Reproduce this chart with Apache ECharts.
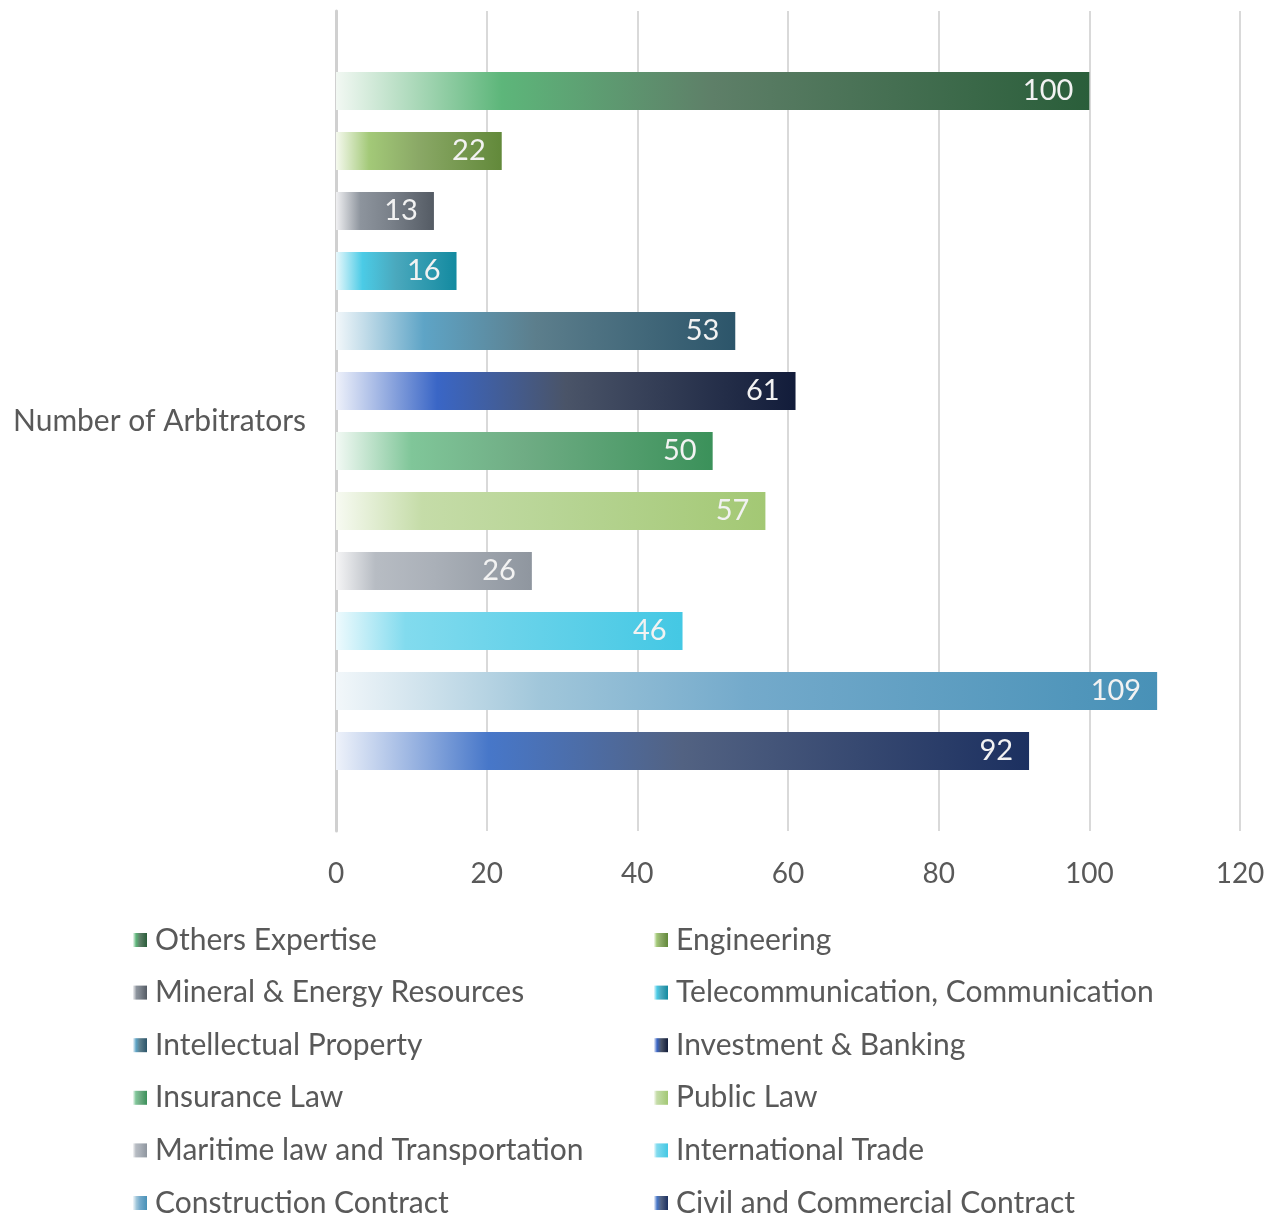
<!DOCTYPE html>
<html>
<head>
<meta charset="utf-8">
<script src="https://cdn.jsdelivr.net/npm/echarts@6/dist/echarts.min.js"></script>
<style>
html,body{margin:0;padding:0;background:#fff;}
#chart{width:1280px;height:1218px;}
</style>
</head>
<body>
<div id="chart"></div>
<script>
const categories = ['Number of Arbitrators'];
const seriesNames = [
  'Others Expertise', 'Engineering', 'Mineral & Energy Resources',
  'Telecommunication, Communication', 'Intellectual Property', 'Investment & Banking',
  'Insurance Law', 'Public Law', 'Maritime law and Transportation',
  'International Trade', 'Construction Contract', 'Civil and Commercial Contract'
];
const seriesValues = [100, 22, 13, 16, 53, 61, 50, 57, 26, 46, 109, 92];
const xTicks = [0, 20, 40, 60, 80, 100, 120];

const gradients = [
  [[0,'#f2f8f3'],[0.22,'#5db67a'],[0.5,'#5e7f68'],[1,'#2a5e3a']],
  [[0,'#f5f9ee'],[0.2,'#a3c978'],[0.5,'#8aa866'],[1,'#62893a']],
  [[0,'#f0f0f2'],[0.25,'#8d949d'],[0.55,'#7a818a'],[1,'#545b64']],
  [[0,'#e8f8fc'],[0.22,'#4bcbe6'],[0.5,'#4aa8bd'],[1,'#138aa0']],
  [[0,'#f2f7fa'],[0.22,'#5ea4c6'],[0.5,'#5c7e8c'],[1,'#2c556a']],
  [[0,'#eef1fa'],[0.22,'#3a66c6'],[0.5,'#4a5468'],[1,'#121c3a']],
  [[0,'#f2f9f4'],[0.2,'#80c699'],[0.5,'#6fac84'],[1,'#3b915a']],
  [[0,'#f7faf2'],[0.2,'#c5dca8'],[0.5,'#b8d596'],[1,'#a3c874']],
  [[0,'#f5f5f6'],[0.2,'#b7bcc3'],[0.5,'#aab0b8'],[1,'#8f969f']],
  [[0,'#eefafd'],[0.2,'#82dbee'],[0.5,'#6ad3ea'],[1,'#44c8e4']],
  [[0,'#f2f7fa'],[0.25,'#a0c6da'],[0.5,'#74aacb'],[1,'#4891b7']],
  [[0,'#eef2fa'],[0.22,'#4777c9'],[0.5,'#526282'],[1,'#1c3060']]
];

const FONT = 'Lato';
const chart = echarts.init(document.getElementById('chart'), null, {renderer:'canvas'});

const series = seriesNames.map((name, i) => ({
  name: name,
  type: 'bar',
  data: [seriesValues[i]],
  barWidth: 38,
  barGap: '57.9%',
  itemStyle: {
    color: new echarts.graphic.LinearGradient(0, 0, 1, 0,
      gradients[i].map(s => ({offset: s[0], color: s[1]})))
  },
  label: {
    show: true,
    position: 'insideRight',
    distance: 16,
    color: '#f2f2f2',
    fontFamily: FONT,
    fontSize: 29
  }
}));

// one legend per item, laid out in two columns of six rows
const legends = seriesNames.map((name, i) => ({
  data: [name],
  left: i % 2 === 0 ? 133 : 654,
  top: 925 + Math.floor(i / 2) * 52.6,
  padding: 0,
  itemWidth: 14,
  itemHeight: 14,
  icon: 'rect',
  textStyle: {color:'#595959', fontFamily: FONT, fontSize: 30, lineHeight: 30, padding:[0,0,0,3]}
}));

chart.setOption({
  animation: false,
  backgroundColor: '#ffffff',
  grid: {left: 336, right: 40, top: 11, bottom: 387, containLabel: false},
  xAxis: {
    type: 'value',
    min: 0, max: 120, interval: 20,
    axisLine: {show: false},
    axisTick: {show: false},
    splitLine: {lineStyle: {color: '#d9d9d9', width: 2}},
    axisLabel: {color:'#595959', fontFamily: FONT, fontSize: 28, margin: 29,
      formatter: v => xTicks.includes(v) ? String(v) : ''}
  },
  yAxis: {
    type: 'category',
    data: categories,
    inverse: true,
    axisLine: {show: true, lineStyle: {color:'#d0d0d0', width: 3}},
    axisTick: {show: false},
    axisLabel: {color:'#595959', fontFamily: FONT, fontSize: 30, margin: 30}
  },
  legend: legends,
  series: series
});
</script>
</body>
</html>
